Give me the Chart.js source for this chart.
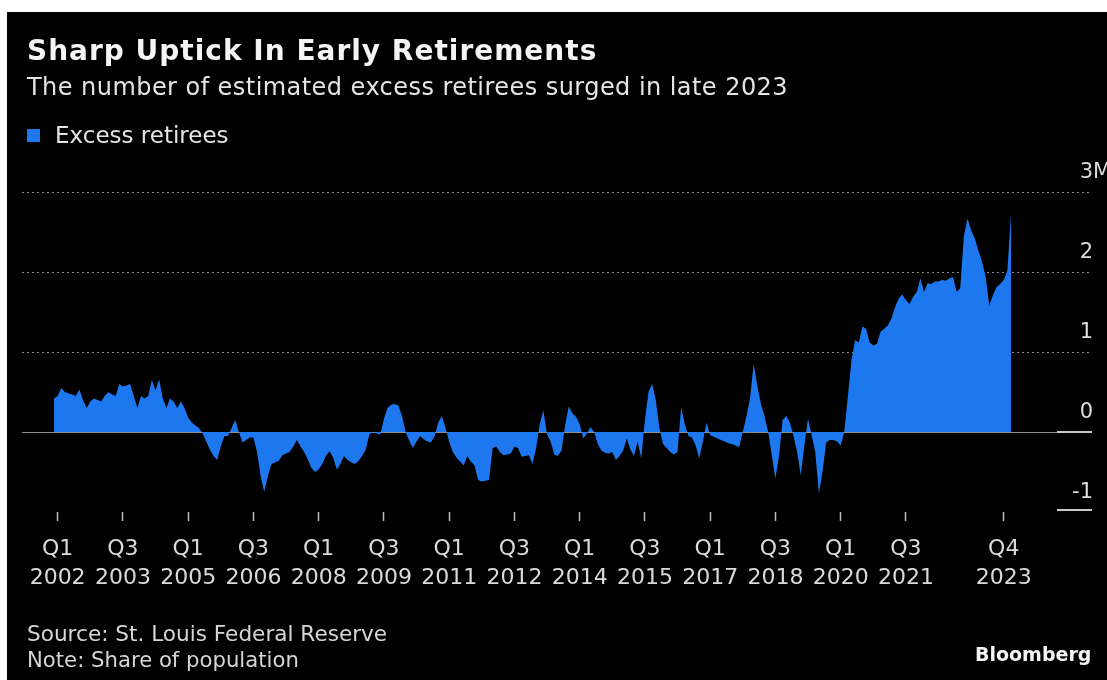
<!DOCTYPE html>
<html>
<head>
<meta charset="utf-8">
<title>Sharp Uptick In Early Retirements</title>
<script src="https://cdn.jsdelivr.net/npm/chart.js@4.4.0/dist/chart.umd.min.js"></script>
<style>
  html, body { margin: 0; padding: 0; background: #ffffff; width: 1107px; height: 680px; overflow: hidden; }
  #frame { position: absolute; left: 7px; top: 12px; width: 1100px; height: 668px; background: #000000; }
  #chart { position: absolute; left: 0; top: 0; }
  .txt { position: absolute; font-family: "DejaVu Sans", sans-serif; white-space: nowrap; line-height: 1; }
  #title { left: 27px; top: 37px; font-size: 28px; font-weight: bold; letter-spacing: 1px; color: #f4f4f4; }
  #subtitle { left: 27px; top: 75px; font-size: 24px; letter-spacing: 0.45px; color: #e4e4e4; }
  #legend { left: 27px; top: 124px; font-size: 23px; color: #e4e4e4; }
  #legend .swatch { display: inline-block; width: 13px; height: 13px; background: #1d78f0; margin-right: 15px; vertical-align: 1px; }
  #source { left: 27px; top: 623px; font-size: 21.6px; color: #d6d6d6; }
  #note { left: 27px; top: 649px; font-size: 21.2px; color: #d6d6d6; }
  #brand { left: 975px; top: 645px; font-size: 19px; font-weight: bold; color: #f4f4f4; }
</style>
</head>
<body>
<div id="frame"></div>
<canvas id="chart" width="1107" height="680"></canvas>
<div class="txt" id="title">Sharp Uptick In Early Retirements</div>
<div class="txt" id="subtitle">The number of estimated excess retirees surged in late 2023</div>
<div class="txt" id="legend"><span class="swatch"></span>Excess retirees</div>
<div class="txt" id="source">Source: St. Louis Federal Reserve</div>
<div class="txt" id="note">Note: Share of population</div>
<div class="txt" id="brand">Bloomberg</div>
<script>
// Estimated excess retirees, millions, one value per month starting January 2002
const excessRetirees = [
  // 2002
  0.42, 0.45, 0.55, 0.50, 0.48, 0.47, 0.45, 0.53, 0.40, 0.30, 0.38, 0.42,
  // 2003
  0.40, 0.38, 0.45, 0.50, 0.47, 0.45, 0.60, 0.57, 0.58, 0.60, 0.45, 0.30,
  // 2004
  0.45, 0.42, 0.45, 0.65, 0.52, 0.66, 0.42, 0.30, 0.42, 0.38, 0.30, 0.38,
  // 2005
  0.30, 0.18, 0.12, 0.08, 0.05, -0.02, -0.12, -0.22, -0.30, -0.35, -0.18, -0.05,
  // 2006
  -0.05, 0.05, 0.15, 0.00, -0.13, -0.10, -0.07, -0.07, -0.25, -0.55, -0.75, -0.55,
  // 2007
  -0.40, -0.38, -0.36, -0.29, -0.27, -0.25, -0.18, -0.10, -0.18, -0.25, -0.34, -0.45,
  // 2008
  -0.50, -0.47, -0.40, -0.30, -0.24, -0.32, -0.47, -0.40, -0.30, -0.35, -0.38, -0.40,
  // 2009
  -0.36, -0.30, -0.22, -0.03, 0.00, -0.02, -0.03, 0.16, 0.30, 0.34, 0.35, 0.33,
  // 2010
  0.20, 0.00, -0.11, -0.20, -0.12, -0.05, -0.09, -0.12, -0.13, -0.05, 0.12, 0.20,
  // 2011
  0.05, -0.12, -0.25, -0.32, -0.37, -0.42, -0.30, -0.37, -0.42, -0.60, -0.62, -0.61,
  // 2012
  -0.60, -0.20, -0.18, -0.25, -0.29, -0.28, -0.27, -0.18, -0.20, -0.31, -0.30, -0.29,
  // 2013
  -0.40, -0.20, 0.10, 0.27, -0.03, -0.12, -0.28, -0.30, -0.23, 0.08, 0.32, 0.23,
  // 2014
  0.19, 0.10, -0.08, -0.02, 0.06, 0.00, -0.15, -0.23, -0.26, -0.27, -0.25, -0.35,
  // 2015
  -0.30, -0.23, -0.08, -0.22, -0.30, -0.12, -0.33, 0.15, 0.50, 0.60, 0.40, 0.05,
  // 2016
  -0.15, -0.20, -0.25, -0.28, -0.25, 0.31, 0.10, -0.05, -0.07, -0.17, -0.33, -0.12,
  // 2017
  0.12, -0.04, -0.06, -0.08, -0.10, -0.12, -0.14, -0.15, -0.17, -0.19, 0.00, 0.19,
  // 2018
  0.42, 0.85, 0.58, 0.35, 0.20, 0.00, -0.29, -0.58, -0.30, 0.15, 0.20, 0.12,
  // 2019
  -0.05, -0.25, -0.54, -0.17, 0.17, -0.04, -0.25, -0.77, -0.50, -0.13, -0.10, -0.10,
  // 2020
  -0.12, -0.17, 0.00, 0.45, 0.90, 1.15, 1.12, 1.32, 1.29, 1.12, 1.08, 1.10,
  // 2021
  1.25, 1.29, 1.33, 1.42, 1.56, 1.67, 1.72, 1.65, 1.60, 1.69, 1.75, 1.92,
  // 2022
  1.75, 1.86, 1.85, 1.88, 1.88, 1.90, 1.89, 1.92, 1.94, 1.75, 1.80, 2.45,
  // 2023
  2.67, 2.52, 2.42, 2.27, 2.13, 1.94, 1.58, 1.71, 1.81, 1.85, 1.90, 2.02,
  // 2024
  2.73
];

// Quarter ticks, placed on the middle month of each quarter (months since Jan 2002)
const tickPositions = [1, 19, 37, 55, 73, 91, 109, 127, 145, 163, 181, 199, 217, 235, 262];
const tickQuarters = ['Q1', 'Q3', 'Q1', 'Q3', 'Q1', 'Q3', 'Q1', 'Q3', 'Q1', 'Q3', 'Q1', 'Q3', 'Q1', 'Q3', 'Q4'];
const tickYears = ['2002', '2003', '2005', '2006', '2008', '2009', '2011', '2012', '2014', '2015', '2017', '2018', '2020', '2021', '2023'];

// Value axis
const yTickValues = [-1, 0, 1, 2, 3];
const yTickLabels = ['-1', '0', '1', '2', '3M'];

const BLUE = '#1d78f0';
const FONT = '"DejaVu Sans", sans-serif';

// Right-hand value labels sit just above their grid line; the unit hangs past the digits
const valueLabels = {
  id: 'valueLabels',
  afterDraw(chart) {
    const { ctx, chartArea } = chart;
    const y = chart.scales.y;
    ctx.save();
    // short solid marks at the right end of the 0 and -1 lines
    ctx.strokeStyle = '#c8c8c8';
    ctx.lineWidth = 2;
    [0, -1].forEach(v => {
      const py = Math.round(y.getPixelForValue(v)) - (v === -1 ? 2 : 0);
      ctx.beginPath();
      ctx.moveTo(chartArea.right - 35, py);
      ctx.lineTo(chartArea.right, py);
      ctx.stroke();
    });
    ctx.font = '21px ' + FONT;
    ctx.fillStyle = '#dcdcdc';
    ctx.textBaseline = 'alphabetic';
    ctx.textAlign = 'left';
    yTickValues.forEach((v, i) => {
      const label = yTickLabels[i];
      const digits = label.replace(/[^0-9\-.]/g, '');
      const w = ctx.measureText(digits).width;
      ctx.fillText(label, chartArea.right + 1 - w, y.getPixelForValue(v) - 14);
    });
    ctx.restore();
  }
};

new Chart(document.getElementById('chart'), {
  type: 'line',
  data: {
    datasets: [{
      label: 'Excess retirees',
      data: excessRetirees.map((v, i) => ({ x: i, y: v })),
      fill: 'origin',
      backgroundColor: BLUE,
      borderColor: BLUE,
      borderWidth: 0,
      pointRadius: 0,
      tension: 0
    }]
  },
  options: {
    responsive: false,
    animation: false,
    events: [],
    layout: { padding: { left: 22, right: 15, top: 192, bottom: 68 } },
    plugins: {
      legend: { display: false },
      title: { display: false },
      tooltip: { enabled: false }
    },
    scales: {
      x: {
        type: 'linear',
        min: -8.828,
        max: 286.34,
        afterBuildTicks(scale) {
          scale.ticks = tickPositions.map(v => ({ value: v }));
        },
        afterFit(scale) { scale.height = 100; },
        ticks: {
          autoSkip: false,
          maxRotation: 0,
          padding: 14,
          color: '#dadada',
          font: { family: FONT, size: 22, lineHeight: 1.32 },
          callback(value) {
            const k = tickPositions.indexOf(value);
            return k < 0 ? '' : [tickQuarters[k], tickYears[k]];
          }
        },
        grid: {
          drawOnChartArea: false,
          drawTicks: true,
          tickLength: 9,
          tickColor: '#bdbdbd',
          tickWidth: 1.5
        },
        border: { display: false }
      },
      y: {
        type: 'linear',
        position: 'right',
        min: -1,
        max: 3,
        afterBuildTicks(scale) {
          scale.ticks = yTickValues.map(v => ({ value: v }));
        },
        afterFit(scale) { scale.width = 0; },
        ticks: { display: false },
        grid: {
          drawTicks: false,
          lineWidth: 1,
          color(ctx) {
            const v = ctx.tick && ctx.tick.value;
            if (v === -1) return 'rgba(0,0,0,0)';
            if (v === 0) return '#8f8f8f';
            return '#8a8a8a';
          },
          borderDash(ctx) { return ctx.tick && ctx.tick.value === 0 ? [] : [2, 3]; }
        },
        border: {
          display: false,
          dash(ctx) { return ctx.tick && ctx.tick.value === 0 ? [] : [2, 3]; }
        }
      }
    }
  },
  plugins: [valueLabels]
});
</script>
</body>
</html>
